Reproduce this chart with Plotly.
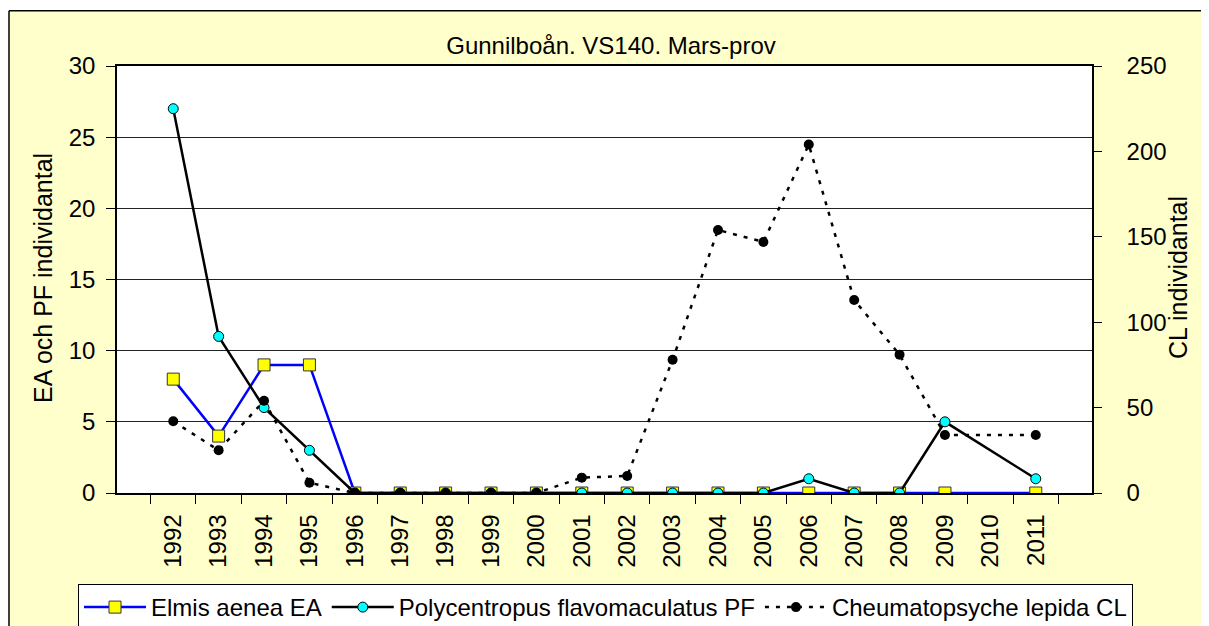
import plotly.graph_objects as go

years = [str(y) for y in range(1992, 2012)]
ea = [8, 4, 9, 9, 0, 0, 0, 0, 0, 0, 0, 0, 0, 0, 0, 0, 0, 0, None, 0]
pf = [27, 11, 6, 3, 0, 0, 0, 0, 0, 0, 0, 0, 0, 0, 1, 0, 0, 5, None, 1]
cl = [42, 25, 54, 6, 0, 0, 0, 0, 0, 9, 10, 78, 154, 147, 204, 113, 81, 34, None, 34]

FONT = "Liberation Sans, Arial, sans-serif"
# page has an 8px body margin; figure coordinates = page coordinates - 8
OFF = 8
W, H = 1209 - OFF, 626 - OFF
L, T = 117 - OFF, 66 - OFF
R = W - (1092 - OFF)
B = H - (493 - OFF)
pw, ph = W - L - R, H - T - B


def px(xpage):
    return (xpage - OFF - L) / pw


def py(ypage):
    return (H - B - (ypage - OFF)) / ph


fig = go.Figure()
fig.add_trace(go.Scatter(
    x=years, y=ea, name="Elmis aenea EA", mode="lines+markers", connectgaps=True,
    line=dict(color="#0000FF", width=2.5),
    marker=dict(symbol="square", size=12, color="#FFFF00", line=dict(color="#333333", width=1)),
))
fig.add_trace(go.Scatter(
    x=years, y=pf, name="Polycentropus flavomaculatus PF", mode="lines+markers", connectgaps=True,
    line=dict(color="#000000", width=2.5),
    marker=dict(symbol="circle", size=10, color="#00FFFF", line=dict(color="#000000", width=1)),
))
fig.add_trace(go.Scatter(
    x=years, y=cl, name="Cheumatopsyche lepida CL", mode="lines+markers", connectgaps=True,
    yaxis="y2",
    line=dict(color="#000000", width=2.5, dash="4px,7px"),
    marker=dict(symbol="circle", size=10, color="#000000"),
))

fig.update_layout(
    width=W, height=H,
    margin=dict(l=L, r=R, t=T, b=B, autoexpand=False),
    paper_bgcolor="white", plot_bgcolor="white",
    font=dict(family=FONT, size=24, color="black"),
    title=dict(text="Gunnilboån. VS140. Mars-prov", x=(611 - OFF) / W, xanchor="center",
               y=1 - (46 - OFF) / H, yanchor="middle", font=dict(size=24, family=FONT)),
    xaxis=dict(type="category", tickangle=-90, tickson="boundaries", ticks="outside",
               ticklen=9, tickcolor="black", showline=True, linecolor="black", linewidth=1.5,
               mirror=True, showgrid=False, tickfont=dict(size=24), ticklabelstandoff=10),
    yaxis=dict(range=[0, 30], dtick=5, ticks="outside", ticklen=9, tickcolor="black",
               showline=True, linecolor="black", linewidth=1.5, showgrid=True,
               gridcolor="#222222", gridwidth=1, zeroline=False, tickfont=dict(size=24),
               ticklabelstandoff=6),
    yaxis2=dict(range=[0, 250], dtick=50, overlaying="y", side="right", ticks="outside",
                ticklen=8, tickcolor="black", showline=True, linecolor="black", linewidth=1.5,
                showgrid=False, zeroline=False, tickfont=dict(size=24), ticklabelstandoff=20),
    yaxis3=dict(range=[0, 250], dtick=50, overlaying="y", side="right", anchor="x",
                ticks="inside", ticklen=8, tickcolor="black", showticklabels=False,
                showline=False, showgrid=False, zeroline=False),
    legend=dict(orientation="h", x=px(78), xanchor="left", y=py(584), yanchor="top",
                bgcolor="white", bordercolor="black", borderwidth=1,
                font=dict(size=24), itemwidth=62, tracegroupgap=0),
    showlegend=True,
)

fig.add_annotation(text="EA och PF individantal", xref="paper", yref="paper",
                   x=px(43), y=py(278), textangle=-90, showarrow=False,
                   xanchor="center", yanchor="middle", font=dict(size=25))
fig.add_annotation(text="CL individantal", xref="paper", yref="paper",
                   x=px(1178), y=py(278), textangle=-90, showarrow=False,
                   xanchor="center", yanchor="middle", font=dict(size=25))

# chart-area background (yellow) with black border on the visible left and top edges
fig.add_shape(type="rect", xref="paper", yref="paper", layer="below",
              x0=px(9), y0=py(640), x1=px(1215), y1=py(10.7),
              fillcolor="#FFFFCC", line=dict(width=0))
fig.add_shape(type="line", xref="paper", yref="paper", layer="below",
              x0=px(9), y0=py(640), x1=px(9), y1=py(10.7),
              line=dict(color="black", width=1.5))
fig.add_shape(type="line", xref="paper", yref="paper", layer="below",
              x0=px(9), y0=py(10.7), x1=px(1215), y1=py(10.7),
              line=dict(color="black", width=1.5))
fig.add_shape(type="rect", xref="paper", yref="paper", layer="below",
              x0=0, y0=0, x1=1, y1=1, fillcolor="white", line=dict(width=0))

fig.write_html("out.html")
